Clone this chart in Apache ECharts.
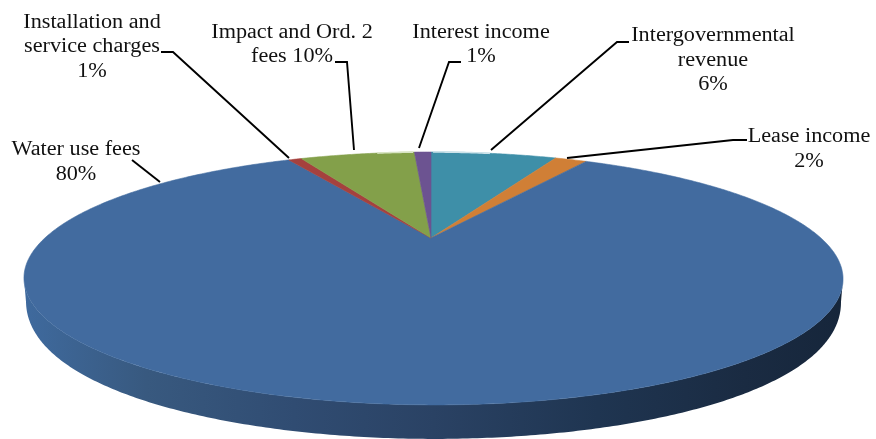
<!DOCTYPE html>
<html><head><meta charset="utf-8">
<style>html,body{margin:0;padding:0;background:#fff}#c{width:876px;height:439px}</style>
<script src="https://cdn.jsdelivr.net/npm/echarts@6/dist/echarts.min.js"></script>
</head><body><div id="c"></div>
<script>
// Slice order runs clockwise from the top of the pie.
var labelLines = [
  ['Intergovernmental','revenue','6%'],
  ['Lease income','2%'],
  ['Water use fees','80%'],
  ['Installation and','service charges','1%'],
  ['Impact and Ord. 2','fees 10%'],
  ['Interest income','1%']
];
// Share of the circle each wedge actually occupies in the picture (percent).
var drawnShares = [6.8, 1.7, 83.7, 0.7, 6.2, 0.9];
var sliceColors = ['#3E8FA8','#D07F36','#426B9F','#A5413E','#83A04A','#6C5391'];

// Layout of the annotations, not data.
var labelCenters = [[713,36],[809,137],[76,150],[92,22.5],[292,32.5],[481,32.5]];
var leaderPaths = [
  [[629,42],[617,42],[491,150]],
  [[747,140],[733,140],[567,158]],
  [[132,160],[160,182]],
  [[161,52],[173,52],[289,158]],
  [[335,62],[347,62],[354,150]],
  [[461,62],[449,62],[419,148]]
];
var LINE_H = 24.5;
var TEXT_STRETCH = 1.11;
var wallStops = [
  [0.00,'#3F6A9E'],[0.15,'#38597F'],[0.33,'#304C72'],[0.50,'#2A4264'],
  [0.70,'#1F3551'],[0.88,'#1A2B42'],[1.00,'#16263B']
];
// Pale glints on the back rim: [start degree, end degree, colour]
var rimGlints = [[0.4,11.5,'#CDE3EA'],[349.5,356.5,'#D8E4C4']];

// Perspective projection of the pie disc.
var CX = 431, CY = 238, K = 0.32, A = 388, B = 113.5, SKEW = 2.5;
function project(deg, extra) {
  var t = deg * Math.PI / 180, u = Math.sin(t), v = -Math.cos(t), w = 1 - K * v;
  var y = CY + B * v / w;
  var xr = A * u / w;
  if (extra) { y += 34 - 23.1 * (1 - v) * (1 - v); xr *= 0.995; }
  return [CX + xr + SKEW * (1 + v) / (1 + K), y];
}
var total = drawnShares.reduce(function (a, b) { return a + b; }, 0);

function arc(a0, a1, extra) {
  var pts = [];
  for (var a = a0; a < a1; a += 0.5) pts.push(project(a, extra));
  pts.push(project(a1, extra));
  return pts;
}

function renderItem(params, api) {
  var i = params.dataIndex, before = 0;
  for (var j = 0; j < i; j++) before += drawnShares[j];
  var a0 = before / total * 360, a1 = (before + api.value(0)) / total * 360;
  var kids = [];
  // side wall is visible only on the front, which belongs to the largest slice
  if (i === 2) {
    var lo = 108.7, hi = 251.3;
    var wall = arc(lo, hi, true).concat(arc(lo, hi, false).reverse());
    kids.push({type:'polygon', shape:{points:wall}, style:{
      fill:{type:'linear',x:24,y:0,x2:843,y2:0,global:true,
        colorStops:wallStops.map(function(s){return {offset:s[0],color:s[1]};})}
    }});
  }
  kids.push({type:'polygon', shape:{points:[[CX, CY]].concat(arc(a0, a1, false))},
    style:{fill:sliceColors[i], stroke:sliceColors[i], lineWidth:0.6}});
  return {type:'group', children:kids};
}

function renderGlint(params, api) {
  var g = rimGlints[params.dataIndex];
  return {type:'polyline', shape:{points:arc(api.value(0), api.value(1), false)},
    style:{fill:null, stroke:g[2], lineWidth:1.6}};
}

function renderLabel(params) {
  var i = params.dataIndex, kids = [];
  kids.push({type:'polyline', shape:{points:leaderPaths[i]},
    style:{fill:null, stroke:'#000', lineWidth:1.9}});
  labelLines[i].forEach(function (line, n) {
    kids.push({type:'text',
      x:labelCenters[i][0], y:labelCenters[i][1] + n * LINE_H, scaleX:TEXT_STRETCH,
      style:{text:line, x:0, y:0, align:'center', verticalAlign:'middle',
        font:'20px "Liberation Serif"', fill:'#111'}
    });
  });
  return {type:'group', children:kids};
}

var chart = echarts.init(document.getElementById('c'), null, {renderer:'canvas'});
chart.setOption({
  animation:false,
  backgroundColor:'#fff',
  series:[
    {type:'custom', coordinateSystem:'none', silent:true, z:1, clip:false,
     renderItem:renderItem, data:drawnShares.map(function(v){return [v];})},
    {type:'custom', coordinateSystem:'none', silent:true, z:2, clip:false,
     renderItem:renderGlint, data:rimGlints.map(function(g){return [g[0],g[1]];})},
    {type:'custom', coordinateSystem:'none', silent:true, z:3, clip:false,
     renderItem:renderLabel, data:drawnShares.map(function(v){return [v];})}
  ]
});
</script></body></html>
